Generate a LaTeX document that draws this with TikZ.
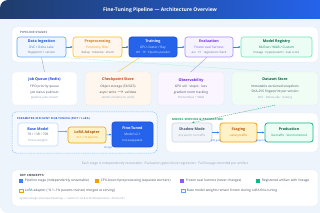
\documentclass[tikz,border=0pt]{standalone}
\usepackage{fontspec}
\setmainfont{Open Sans}
\newfontfamily\capsfont[LetterSpace=8]{Open Sans}
\usetikzlibrary{arrows.meta,positioning,calc}
\definecolor{pagebg}{HTML}{EEF4FB}
\definecolor{panelline}{HTML}{E2E8F0}
\definecolor{headnavy}{HTML}{1F3C6B}
\definecolor{headblue}{HTML}{2563EB}
\definecolor{ingestline}{HTML}{60A5FA}
\definecolor{ingestfill}{HTML}{EFF6FF}
\definecolor{ingestttl}{HTML}{1D4ED8}
\definecolor{ingestsub}{HTML}{3B82F6}
\definecolor{prepline}{HTML}{FBBF24}
\definecolor{prepfill}{HTML}{FFF7ED}
\definecolor{prepttl}{HTML}{D97706}
\definecolor{prepsub}{HTML}{F59E0B}
\definecolor{trainfill}{HTML}{2563EB}
\definecolor{trainline}{HTML}{1D4ED8}
\definecolor{trainsub}{HTML}{DBEAFE}
\definecolor{evalline}{HTML}{A78BFA}
\definecolor{evalfill}{HTML}{F5F3FF}
\definecolor{evalttl}{HTML}{6D28D9}
\definecolor{evalsub}{HTML}{8B5CF6}
\definecolor{regline}{HTML}{6EE7B7}
\definecolor{regfill}{HTML}{ECFDF5}
\definecolor{regttl}{HTML}{065F46}
\definecolor{regsub}{HTML}{059669}
\definecolor{ckptttl}{HTML}{C2410C}
\definecolor{obsfill}{HTML}{FAF5FF}
\definecolor{dsfill}{HTML}{F0FDF4}
\definecolor{slate}{HTML}{64748B}
\definecolor{slatelt}{HTML}{94A3B8}
\definecolor{ink}{HTML}{475569}
\definecolor{inkdark}{HTML}{1E293B}
\definecolor{loraline}{HTML}{F59E0B}
\definecolor{lorafill}{HTML}{FEF3C7}
\definecolor{lorattl}{HTML}{B45309}
\definecolor{shadowfill}{HTML}{F1F5F9}
\definecolor{shadowline}{HTML}{CBD5E1}
\definecolor{prodline}{HTML}{10B981}
\definecolor{baseline}{HTML}{BFDBFE}
\definecolor{peftfill}{HTML}{F5F9FF}
\newcommand{\ttlfont}{\fontsize{3.7}{5}\selectfont\bfseries}
\newcommand{\smlfont}{\fontsize{2.9}{4}\selectfont}
\tikzset{
  panel/.style={fill=white, draw=panelline, line width=0.3pt, rounded corners=4pt},
  peftpanel/.style={fill=peftfill, draw=ingestline!80, dashed, dash pattern=on 1pt off 0.8pt, line width=0.5pt, rounded corners=4pt},
  panellabel/.style={anchor=west, inner sep=0pt, font=\capsfont\fontsize{2.9}{3.5}\selectfont\bfseries},
  stagebox/.style={rounded corners=2.5pt, line width=0.6pt, align=center, inner sep=0pt, minimum height=20pt, font=\fontsize{3.2}{5.5}\selectfont},
  infobox/.style={rounded corners=3pt, draw=panelline, line width=0.3pt, align=center, inner sep=0pt, minimum height=33pt, text=ink, font=\fontsize{3.2}{5.4}\selectfont},
  flowarrow/.style={draw=ingestsub, line width=0.5pt, -{Latex[length=2.2pt,width=2.2pt]}},
  link/.style={line width=0.35pt},
  dashlink/.style={draw=regsub!80, dashed, dash pattern=on 1.2pt off 0.8pt, line width=0.4pt, -{Latex[length=2pt,width=2pt]}},
  arrowlbl/.style={inner sep=0pt, text=ingestsub, font=\fontsize{2.7}{3}\selectfont},
  keysquare/.style={minimum size=3.4pt, inner sep=0pt, line width=0.4pt},
  keyblue/.style={fill=ingestsub},
  keyorange/.style={fill=prepsub},
  keypurple/.style={fill=evalsub},
  keygreen/.style={fill=prodline},
  keylora/.style={fill=lorafill, draw=loraline},
  keybase/.style={fill=ingestfill, draw=ingestline},
  keytext/.style={inner sep=0pt, text=ink, font=\fontsize{3.3}{4}\selectfont},
  titletext/.style={text=white, font=\fontsize{5}{6}\selectfont\bfseries},
  captiontext/.style={text=slatelt, font=\fontsize{3.3}{4}\selectfont}
}
\begin{document}
\begin{tikzpicture}[x=1pt,y=-1pt]
  \useasboundingbox (0,0) rectangle (320,213);
  \fill[white] (0,0) rectangle (320,213);
  \begin{scope}
    \clip[rounded corners=8pt] (0,0) rectangle (340,213);
    \fill[pagebg] (0,0) rectangle (320,213);
    \shade[left color=headnavy, right color=headblue] (0,0) rectangle (320,19);
  \end{scope}
  \node[titletext] (title) at (160,10) {Fine-Tuning Pipeline — Architecture Overview};

  % pipeline stages
  \draw[panel] (12,27) rectangle (318,62);
  \node[panellabel, text=slate] (stageslbl) at (20,32) {PIPELINE STAGES};
  \node[stagebox, draw=ingestline, fill=ingestfill, minimum width=49pt] (ingest) at (41.5,47)
    {{\ttlfont\color{ingestttl}Data Ingestion}\\{\color{ingestsub}DVC / Delta Lake}\\{\smlfont\color{slate}fingerprint + version}};
  \node[stagebox, draw=prepline, fill=prepfill, minimum width=49pt] (prep) at (97.5,47)
    {{\ttlfont\color{prepttl}Preprocessing}\\{\color{prepsub}Perplexity filter}\\{\smlfont\color{slate}dedup · tokenize · shard}};
  \node[stagebox, draw=trainline, fill=trainfill, minimum width=48pt] (train) at (153,47)
    {{\ttlfont\color{white}Training}\\{\color{trainsub}GPU cluster / Ray}\\{\smlfont\color{trainsub}DP · TP · Pipeline parallel}};
  \node[stagebox, draw=evalline, fill=evalfill, minimum width=48pt] (eval) at (209,47)
    {{\ttlfont\color{evalttl}Evaluation}\\{\color{evalsub}Frozen eval harness}\\{\smlfont\color{slate}acc · F1 · regression check}};
  \node[stagebox, draw=regline, fill=regfill, minimum width=71pt] (registry) at (276.5,47)
    {{\ttlfont\color{regttl}Model Registry}\\{\color{regsub}MLflow / W\&B / Custom}\\{\smlfont\color{slate}lineage · hyperparams · eval score}};
  \foreach \a/\b in {ingest/prep, prep/train, train/eval, eval/registry}
    \draw[flowarrow] (\a.east) -- (\b.west);

  % supporting services
  \node[infobox, fill=white, minimum width=65pt] (queue) at (44.5,88.5)
    {{\ttlfont\color{ingestttl}Job Queue (Redis)}\\[1.5pt]FIFO priority queue\\job status pub/sub\\{\smlfont\color{slatelt}pipeline jobs stream}};
  \node[infobox, fill=prepfill, minimum width=66pt] (ckpt) at (118,88.5)
    {{\ttlfont\color{ckptttl}Checkpoint Store}\\[1.5pt]Object storage (S3/GCS)\\async write $\rightarrow$ validate\\{\smlfont\color{slatelt}atomic rename on verify}};
  \node[infobox, fill=obsfill, minimum width=66pt] (obs) at (191,88.5)
    {{\ttlfont\color{evalttl}Observability}\\[1.5pt]GPU util · step/s · loss\\gradient norm tracking\\{\smlfont\color{slatelt}Prometheus + W\&B}};
  \node[infobox, fill=dsfill, minimum width=86pt] (dataset) at (275,88.5)
    {{\ttlfont\color{regttl}Dataset Store}\\[1.5pt]Immutable versioned snapshots\\SHA-256 fingerprint per version\\{\smlfont\color{slatelt}DVC · Delta Lake · Iceberg}};
  \draw[link, draw=slatelt] (ingest.south) -- (queue.north);
  \draw[link, draw=prepline] ([xshift=-13pt]train.south) -- (ckpt.north);
  \draw[link, draw=evalline] ([xshift=-2pt]eval.south) -- (obs.north);
  \draw[link, draw=regline!50] ([xshift=18pt]ingest.south) -- (dataset.north);

  % PEFT / LoRA
  \draw[peftpanel] (12,112) rectangle (157,153);
  \node[panellabel, text=ingestttl, font=\capsfont\fontsize{2.6}{3}\selectfont\bfseries] (peftlbl) at (17,119) {PARAMETER-EFFICIENT FINE-TUNING (PEFT / LoRA)};
  \node[stagebox, draw=baseline, fill=white, minimum width=40pt, minimum height=23pt] (base) at (38,134.5)
    {{\ttlfont\color{ingestttl}Base Model}\\{\color{slate}7B / 13B / 70B}\\{\smlfont\color{slatelt}frozen weights}};
  \node[stagebox, draw=loraline, fill=lorafill, minimum width=38pt, minimum height=16pt] (lora) at (87,135)
    {{\ttlfont\color{lorattl}LoRA Adapter}\\{\smlfont\color{prepsub}<0.1--1\% params}};
  \node[stagebox, draw=trainline, fill=trainfill, minimum width=41pt, minimum height=25pt, font=\fontsize{3.2}{6}\selectfont] (tuned) at (132.5,134.5)
    {{\ttlfont\color{white}Fine-Tuned}\\{\color{trainsub}Model v2.1}\\{\smlfont\color{trainsub}hot-swappable}};
  \draw[flowarrow, draw=slatelt] ([yshift=3pt]base.east) -- ([yshift=3pt]base.east -| lora.west);
  \draw[flowarrow] (lora.east) -- (tuned.west);
  \node[arrowlbl] (mergelbl) at (108,148) {merge};

  % serving
  \draw[panel] (166,113) rectangle (318,152);
  \node[panellabel, text=regsub] (servelbl) at (172,119) {MODEL SERVING \& PROMOTION};
  \node[stagebox, draw=shadowline, fill=shadowfill, minimum width=40pt, minimum height=19pt, font=\fontsize{3.2}{6}\selectfont] (shadow) at (192,132.5)
    {{\ttlfont\color{ink}Shadow Mode}\\{\smlfont\color{slatelt}pre warm, no traffic}};
  \node[stagebox, draw=loraline, fill=lorafill, line width=0.8pt, minimum width=37pt, minimum height=19pt, font=\fontsize{3.2}{6}\selectfont] (staging) at (238.5,132.5)
    {{\ttlfont\color{lorattl}Staging}\\{\smlfont\color{prepttl}canary traffic}};
  \node[stagebox, draw=prodline, fill=regfill, line width=0.8pt, minimum width=48pt, minimum height=19pt, font=\fontsize{3.2}{6}\selectfont] (prod) at (289,132.5)
    {{\ttlfont\color{regttl}Production}\\{\smlfont\color{regsub}live traffic · SLO monitored}};
  \draw[flowarrow] (shadow.east) -- (staging.west) node[midway, below=7pt, arrowlbl] (abgate) {A/B gate};
  \draw[flowarrow] (staging.east) -- (prod.west) node[midway, below=7pt, arrowlbl] (approve) {approve};
  \draw[dashlink] (dataset.south) -- (shadow.north);

  \node[captiontext] (caption) at (165,164) {Each stage is independently restartable · Evaluation gates block regression · Full lineage recorded per artifact};

  % key concepts
  \draw[panel] (12,170) rectangle (318,206);
  \node[panellabel, text=inkdark] (keylbl) at (20,175.5) {KEY CONCEPTS};
  \foreach \sq/\lx/\ly/\txt [count=\i] in {
      keyblue/21/181/{Pipeline stage (independently restartable)},
      keyorange/97/181/{CPU-bound preprocessing (separate workers)},
      keypurple/182/181/{Frozen eval harness (never changes)},
      keygreen/258/181/{Registered artifact with lineage},
      keylora/21/190.5/{LoRA adapter (\textasciitilde0.1--1\% params trained, merged at serving)},
      keybase/183/190.5/{Base model weights remain frozen during LoRA fine-tuning}}{
    \node[keysquare, \sq] (sq\i) at (\lx,\ly) {};
    \node[keytext, anchor=west] (kt\i) at ([xshift=1.8pt]sq\i.east) {\txt};
  }
  \node[keytext, text=slatelt, anchor=west, font=\fontsize{2.7}{3}\selectfont] (footer) at (19.5,198.5) {System Design Interview Roadmap — Section 9: AI \& LLM Infrastructure · Article 221};
\end{tikzpicture}
\end{document}
